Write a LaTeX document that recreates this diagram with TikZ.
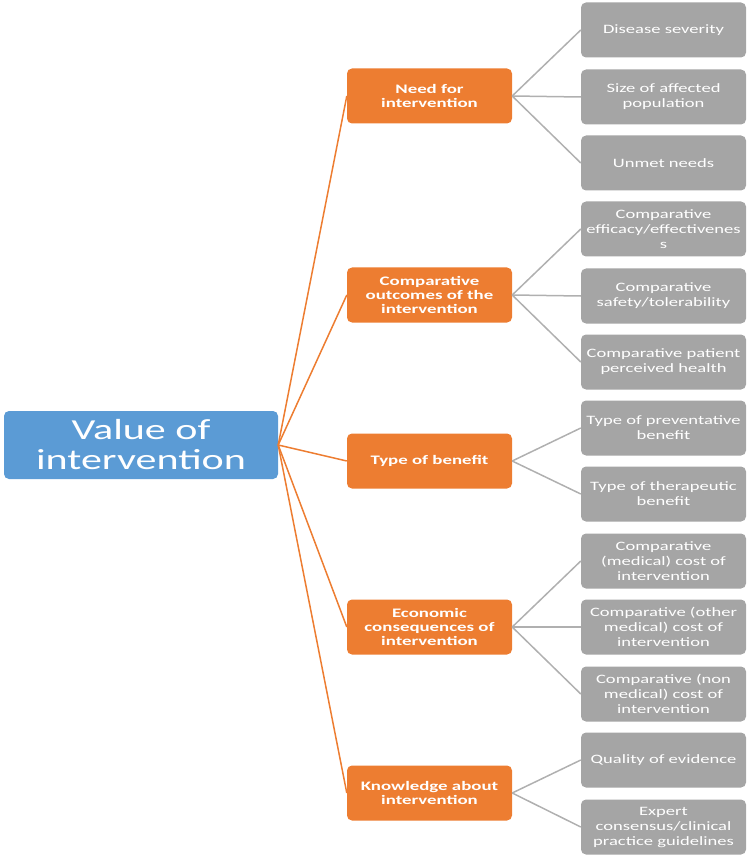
\documentclass[tikz,border=0pt]{standalone}
\usepackage{fontspec}
\setmainfont[FakeStretch=1.45]{Carlito}
\definecolor{rootblue}{HTML}{5B9BD5}
\definecolor{midorange}{HTML}{ED7D31}
\definecolor{leafgray}{HTML}{A5A5A5}
\definecolor{linegray}{HTML}{B0B0B0}
\tikzset{
  rootbox/.style={fill=rootblue, rounded corners=5pt, minimum width=274pt, minimum height=68pt, inner sep=0pt, align=center, text=white, font=\fontsize{29}{30}\selectfont},
  midbox/.style={fill=midorange, rounded corners=5pt, minimum width=165pt, minimum height=55pt, inner sep=0pt, align=center, text=white, font=\bfseries\fontsize{13}{14}\selectfont},
  leafbox/.style={fill=leafgray, rounded corners=5pt, minimum width=165pt, minimum height=55pt, inner sep=0pt, align=center, text=white, font=\fontsize{12.8}{15}\selectfont},
  oline/.style={draw=midorange, line width=1.5pt},
  gline/.style={draw=linegray, line width=1.5pt}
}
\begin{document}
\begin{tikzpicture}[x=1pt, y=-1pt]
\useasboundingbox (0,0) rectangle (750,858);
\node[rootbox] (root) at (141,445) {Value of\\intervention};

\node[midbox] (m1) at (429.5,96) {Need for\\intervention};
\node[midbox] (m2) at (429.5,295) {Comparative\\outcomes of the\\intervention};
\node[midbox] (m3) at (429.5,461) {Type of benefit};
\node[midbox] (m4) at (429.5,627) {Economic\\consequences of\\intervention};
\node[midbox] (m5) at (429.5,793) {Knowledge about\\intervention};

\node[leafbox] (l1) at (663.5,30) {Disease severity};
\node[leafbox] (l2) at (663.5,97) {Size of affected\\population};
\node[leafbox] (l3) at (663.5,163) {Unmet needs};
\node[leafbox] (l4) at (663.5,229) {Comparative\\efficacy/effectivenes\\s};
\node[leafbox] (l5) at (663.5,296) {Comparative\\safety/tolerability};
\node[leafbox] (l6) at (663.5,362) {Comparative patient\\perceived health};
\node[leafbox] (l7) at (663.5,428) {Type of preventative\\benefit};
\node[leafbox] (l8) at (663.5,494) {Type of therapeutic\\benefit};
\node[leafbox] (l9) at (663.5,561) {Comparative\\(medical) cost of\\intervention};
\node[leafbox] (l10) at (663.5,627) {Comparative (other\\medical) cost of\\intervention};
\node[leafbox] (l11) at (663.5,694) {Comparative (non\\medical) cost of\\intervention};
\node[leafbox] (l12) at (663.5,760) {Quality of evidence};
\node[leafbox] (l13) at (663.5,827) {Expert\\consensus/clinical\\practice guidelines};

\foreach \m in {m1,m2,m3,m4,m5}
  \draw[oline] (root.east) -- (\m.west);

\foreach \m/\l in {m1/l1,m1/l2,m1/l3,m2/l4,m2/l5,m2/l6,m3/l7,m3/l8,m4/l9,m4/l10,m4/l11,m5/l12,m5/l13}
  \draw[gline] (\m.east) -- (\l.west);
\end{tikzpicture}
\end{document}
